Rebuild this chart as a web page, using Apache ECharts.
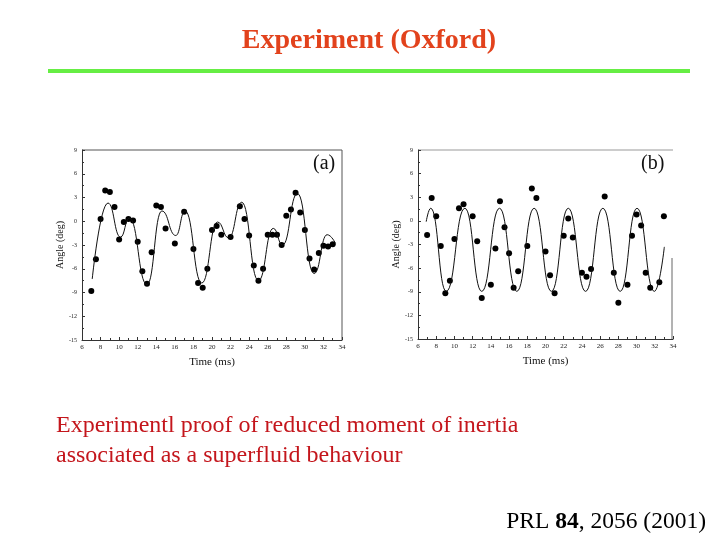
<!DOCTYPE html>
<html>
<head>
<meta charset="utf-8">
<script src="https://cdn.jsdelivr.net/npm/echarts@6/dist/echarts.min.js"></script>
<style>
  html, body { margin: 0; padding: 0; background: #fff; }
  #main { width: 720px; height: 540px; }
</style>
</head>
<body>
<div id="main"></div>
<script>
// 数据：(a) 测量点
const timeA = [7, 7.5, 8, 8.5, 9, 9.5, 10, 10.5, 11, 11.5, 12, 12.5, 13, 13.5, 14, 14.5, 15, 16, 17, 18, 18.5, 19, 19.5, 20, 20.5, 21, 22, 23, 23.5, 24, 24.5, 25, 25.5, 26, 26.5, 27, 27.5, 28, 28.5, 29, 29.5, 30, 30.5, 31, 31.5, 32, 32.5, 33];
const angleA = [-8.8, -4.8, 0.3, 3.9, 3.7, 1.8, -2.3, -0.1, 0.3, 0.1, -2.6, -6.3, -7.9, -3.9, 2.0, 1.8, -0.9, -2.8, 1.2, -3.5, -7.8, -8.4, -6.0, -1.1, -0.6, -1.7, -2.0, 1.9, 0.3, -1.8, -5.6, -7.5, -6.0, -1.7, -1.7, -1.7, -3.0, 0.7, 1.5, 3.6, 1.1, -1.1, -4.7, -6.1, -4.0, -3.1, -3.2, -2.9];
// (a) 拟合曲线（读取的极值点）
const fitTimeA = [7.1, 8.8, 10.15, 11.1, 13.0, 14.6, 16.1, 17.1, 18.9, 20.6, 21.8, 23.2, 25.0, 26.6, 27.6, 29.2, 31.0, 32.4, 33.3];
const fitAngleA = [-7.3, 2.3, -2.0, 0.4, -8.0, 1.3, -1.8, 1.3, -7.8, -0.1, -2.1, 2.4, -7.5, -0.9, -3.0, 3.5, -6.6, -1.7, -2.8];

// (b) 测量点
const timeB = [7, 7.5, 8, 8.5, 9, 9.5, 10, 10.5, 11, 12, 12.5, 13, 14, 14.5, 15, 15.5, 16, 16.5, 17, 18, 18.5, 19, 20, 20.5, 21, 22, 22.5, 23, 24, 24.5, 25, 26.5, 27.5, 28, 29, 29.5, 30, 30.5, 31, 31.5, 32.5, 33];
const angleB = [-1.8, 2.9, 0.6, -3.2, -9.2, -7.6, -2.3, 1.6, 2.1, 0.6, -2.6, -9.8, -8.1, -3.5, 2.5, -0.8, -4.1, -8.5, -6.4, -3.2, 4.1, 2.9, -3.9, -6.9, -9.2, -1.9, 0.3, -2.1, -6.6, -7.1, -6.1, 3.1, -6.6, -10.4, -8.1, -1.9, 0.8, -0.6, -6.6, -8.5, -7.8, 0.6];
// (b) 拟合曲线
const fitTimeB = [6.9, 7.4, 9.1, 11.15, 13.0, 14.95, 16.85, 18.75, 20.65, 22.5, 24.4, 26.3, 28.2, 30.05, 31.95, 33.05];
const fitAngleB = [-0.1, 1.6, -8.95, 1.6, -8.95, 1.6, -8.95, 1.6, -8.95, 1.6, -8.95, 1.6, -8.95, 1.6, -8.95, -3.3];

const xTicks = { min: 6, max: 34, interval: 2 };
const yTicks = { min: -15, max: 9, interval: 3 };

const serif = "'Liberation Serif', 'DejaVu Serif', serif";

function pairs(xs, ys) {
  return xs.map((x, i) => [x, ys[i]]);
}

function makeX(gridIndex) {
  return {
    type: "value",
    gridIndex: gridIndex,
    min: xTicks.min,
    max: xTicks.max,
    interval: xTicks.interval,
    name: "Time (ms)",
    nameLocation: "middle",
    nameGap: 17,
    nameTextStyle: { fontFamily: serif, fontSize: 11, color: "#111" },
    axisLine: { show: true, onZero: false, lineStyle: { color: "#333", width: 1 } },
    axisTick: { show: true, inside: true, length: 3, lineStyle: { color: "#333" } },
    minorTick: { show: true, splitNumber: 2, length: 2, lineStyle: { color: "#333" } },
    axisLabel: { fontFamily: serif, fontSize: 7, color: "#222", margin: 4 },
    splitLine: { show: false },
  };
}

function makeY(gridIndex) {
  return {
    type: "value",
    gridIndex: gridIndex,
    min: yTicks.min,
    max: yTicks.max,
    interval: yTicks.interval,
    name: "Angle (deg)",
    nameLocation: "middle",
    nameRotate: 90,
    nameGap: 16,
    nameTextStyle: { fontFamily: serif, fontSize: 10, color: "#111" },
    axisLine: { show: true, onZero: false, lineStyle: { color: "#333", width: 1 } },
    axisTick: { show: true, inside: true, length: 3, lineStyle: { color: "#333" } },
    minorTick: { show: true, splitNumber: 2, length: 2, lineStyle: { color: "#333" } },
    axisLabel: { fontFamily: serif, fontSize: 6, color: "#222", margin: 5 },
    splitLine: { show: false },
  };
}

const chart = echarts.init(document.getElementById("main"));

const option = {
  backgroundColor: "#fff",
  animation: false,
  title: [
    {
      text: "Experiment (Oxford)",
      left: 364,
      top: 22,
      textAlign: "center",
      textStyle: { fontFamily: serif, fontSize: 28, fontWeight: "bold", color: "#e2421c" },
    },
    {
      text: "Experimentl proof of reduced moment of inertia\nassociated as a superfluid behaviour",
      left: 51,
      top: 406,
      textStyle: { fontFamily: serif, fontSize: 24, fontWeight: "normal", color: "#c4161c", lineHeight: 30 },
    },
    {
      text: "PRL {b|84}, 2056 (2001)",
      right: 9,
      top: 505,
      textStyle: {
        fontFamily: serif, fontSize: 23.5, fontWeight: "normal", color: "#000",
        rich: { b: { fontFamily: serif, fontSize: 23.5, fontWeight: "bold", color: "#000" } },
      },
    },
  ],
  graphic: [
    // 绿色分隔线
    { type: "rect", shape: { x: 48, y: 69, width: 642, height: 4 }, style: { fill: "#66ee44" } },
    { type: "text", left: 313, top: 154, style: { text: "(a)", font: "20px " + serif, fill: "#111" } },
    { type: "text", left: 641, top: 154, style: { text: "(b)", font: "20px " + serif, fill: "#111" } },
    // (a) 外框
    { type: "line", shape: { x1: 82, y1: 150, x2: 342, y2: 150 }, style: { stroke: "#555", lineWidth: 1 } },
    { type: "line", shape: { x1: 342, y1: 150, x2: 342, y2: 340 }, style: { stroke: "#555", lineWidth: 1 } },
    // (b) 外框
    { type: "line", shape: { x1: 418, y1: 150, x2: 673, y2: 150 }, style: { stroke: "#999", lineWidth: 1 } },
    { type: "line", shape: { x1: 672, y1: 258, x2: 672, y2: 339 }, style: { stroke: "#666", lineWidth: 1 } },
  ],
  grid: [
    { left: 82, top: 150, width: 260, height: 190 },
    { left: 418, top: 150, width: 255, height: 189 },
  ],
  xAxis: [makeX(0), makeX(1)],
  yAxis: [makeY(0), makeY(1)],
  series: [
    {
      type: "line",
      xAxisIndex: 0,
      yAxisIndex: 0,
      data: pairs(fitTimeA, fitAngleA),
      smooth: 0.5,
      smoothMonotone: "x",
      symbol: "none",
      lineStyle: { color: "#111", width: 1 },
    },
    {
      type: "scatter",
      xAxisIndex: 0,
      yAxisIndex: 0,
      data: pairs(timeA, angleA),
      symbol: "circle",
      symbolSize: 6,
      itemStyle: { color: "#000", opacity: 1 },
    },
    {
      type: "line",
      xAxisIndex: 1,
      yAxisIndex: 1,
      data: pairs(fitTimeB, fitAngleB),
      smooth: 0.5,
      smoothMonotone: "x",
      symbol: "none",
      lineStyle: { color: "#111", width: 1 },
    },
    {
      type: "scatter",
      xAxisIndex: 1,
      yAxisIndex: 1,
      data: pairs(timeB, angleB),
      symbol: "circle",
      symbolSize: 6,
      itemStyle: { color: "#000", opacity: 1 },
    },
  ],
};

chart.setOption(option);
</script>
</body>
</html>
